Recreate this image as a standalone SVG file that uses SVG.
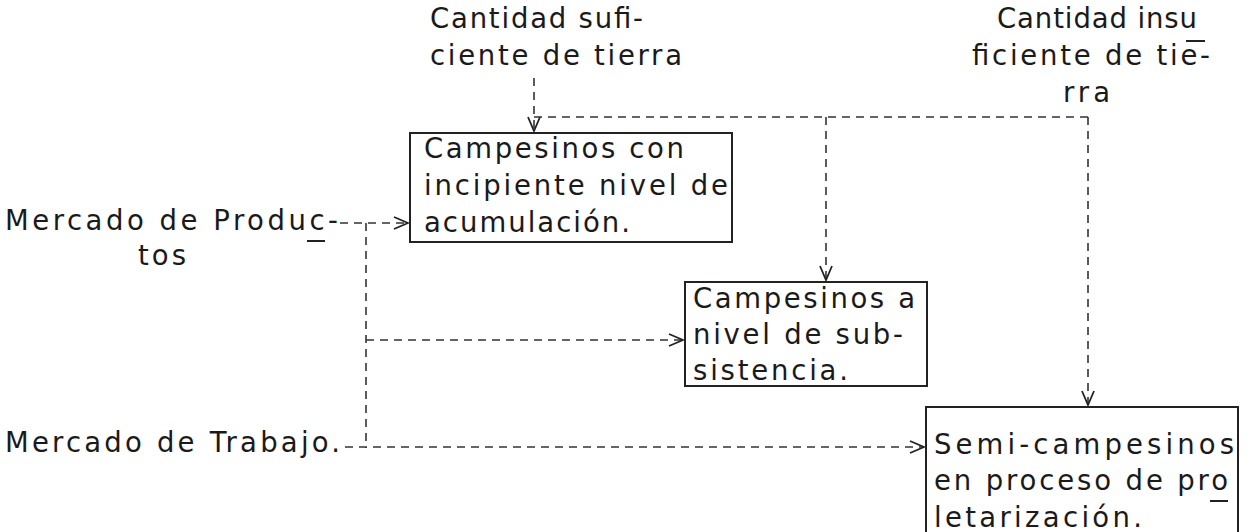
<svg xmlns="http://www.w3.org/2000/svg" width="1250" height="532" viewBox="0 0 1250 532">
<style>
  text { font-family: "DejaVu Sans", "Liberation Sans", sans-serif; font-size: 27.5px; font-weight: normal; fill: #1a1a1a; }
  .box { fill: #fff; stroke: #222; stroke-width: 2; }
  .dash { fill: none; stroke: #333; stroke-width: 1.6; stroke-dasharray: 8 6; }
  .mark { stroke: #222; stroke-width: 2; }
</style>
<defs>
  <marker id="arr" markerUnits="userSpaceOnUse" markerWidth="16" markerHeight="14" refX="15" refY="7" orient="auto">
    <path d="M1,1 L15,7 L1,13" fill="none" stroke="#222" stroke-width="1.8"/>
  </marker>
</defs>

<g id="label-suficiente">
  <text x="430" y="28" textLength="213" lengthAdjust="spacing">Cantidad sufi-</text>
  <text x="430" y="65" textLength="252" lengthAdjust="spacing">ciente de tierra</text>
</g>
<g id="label-insuficiente">
  <text x="997" y="28" textLength="200" lengthAdjust="spacing">Cantidad insu</text>
  <line class="mark" x1="1186" y1="41" x2="1205" y2="41"/>
  <text x="972" y="65" textLength="238" lengthAdjust="spacing">ficiente de tie-</text>
  <text x="1063" y="102" textLength="47" lengthAdjust="spacing">rra</text>
</g>
<g id="label-productos">
  <text x="5" y="230" textLength="333" lengthAdjust="spacing">Mercado de Produc-</text>
  <line class="mark" x1="307" y1="241" x2="325" y2="241"/>
  <text x="138" y="265" textLength="48" lengthAdjust="spacing">tos</text>
</g>
<g id="label-trabajo">
  <text x="5" y="452" textLength="335" lengthAdjust="spacing">Mercado de Trabajo.</text>
</g>

<g id="connectors">
  <line class="dash" x1="534" y1="78" x2="534" y2="131" marker-end="url(#arr)"/>
  <line class="dash" x1="534" y1="117" x2="1088" y2="117"/>
  <line class="dash" x1="826" y1="117" x2="826" y2="280" marker-end="url(#arr)"/>
  <line class="dash" x1="1088" y1="117" x2="1088" y2="405" marker-end="url(#arr)"/>
  <line class="dash" x1="340" y1="223" x2="408" y2="223" marker-end="url(#arr)"/>
  <line class="dash" x1="366" y1="223" x2="366" y2="448"/>
  <line class="dash" x1="366" y1="340" x2="683" y2="340" marker-end="url(#arr)"/>
  <line class="dash" x1="345" y1="447" x2="924" y2="447" marker-end="url(#arr)"/>
</g>

<g id="node-acumulacion">
  <rect class="box" x="410" y="133" width="322" height="109"/>
  <text x="424" y="158" textLength="260" lengthAdjust="spacing">Campesinos con</text>
  <text x="424" y="195" textLength="304" lengthAdjust="spacing">incipiente nivel de</text>
  <text x="424" y="232" textLength="206" lengthAdjust="spacing">acumulación.</text>
</g>
<g id="node-subsistencia">
  <rect class="box" x="685" y="282" width="242" height="104"/>
  <text x="693" y="308" textLength="222" lengthAdjust="spacing">Campesinos a</text>
  <text x="693" y="344" textLength="210" lengthAdjust="spacing">nivel de sub-</text>
  <text x="693" y="380" textLength="155" lengthAdjust="spacing">sistencia.</text>
</g>
<g id="node-semicampesinos">
  <rect class="box" x="926" y="407" width="312" height="140"/>
  <text x="934" y="454" textLength="300" lengthAdjust="spacing">Semi-campesinos</text>
  <text x="934" y="490" textLength="294" lengthAdjust="spacing">en proceso de pro</text>
  <line class="mark" x1="1210" y1="501" x2="1228" y2="501"/>
  <text x="934" y="527" textLength="208" lengthAdjust="spacing">letarización.</text>
</g>
</svg>
